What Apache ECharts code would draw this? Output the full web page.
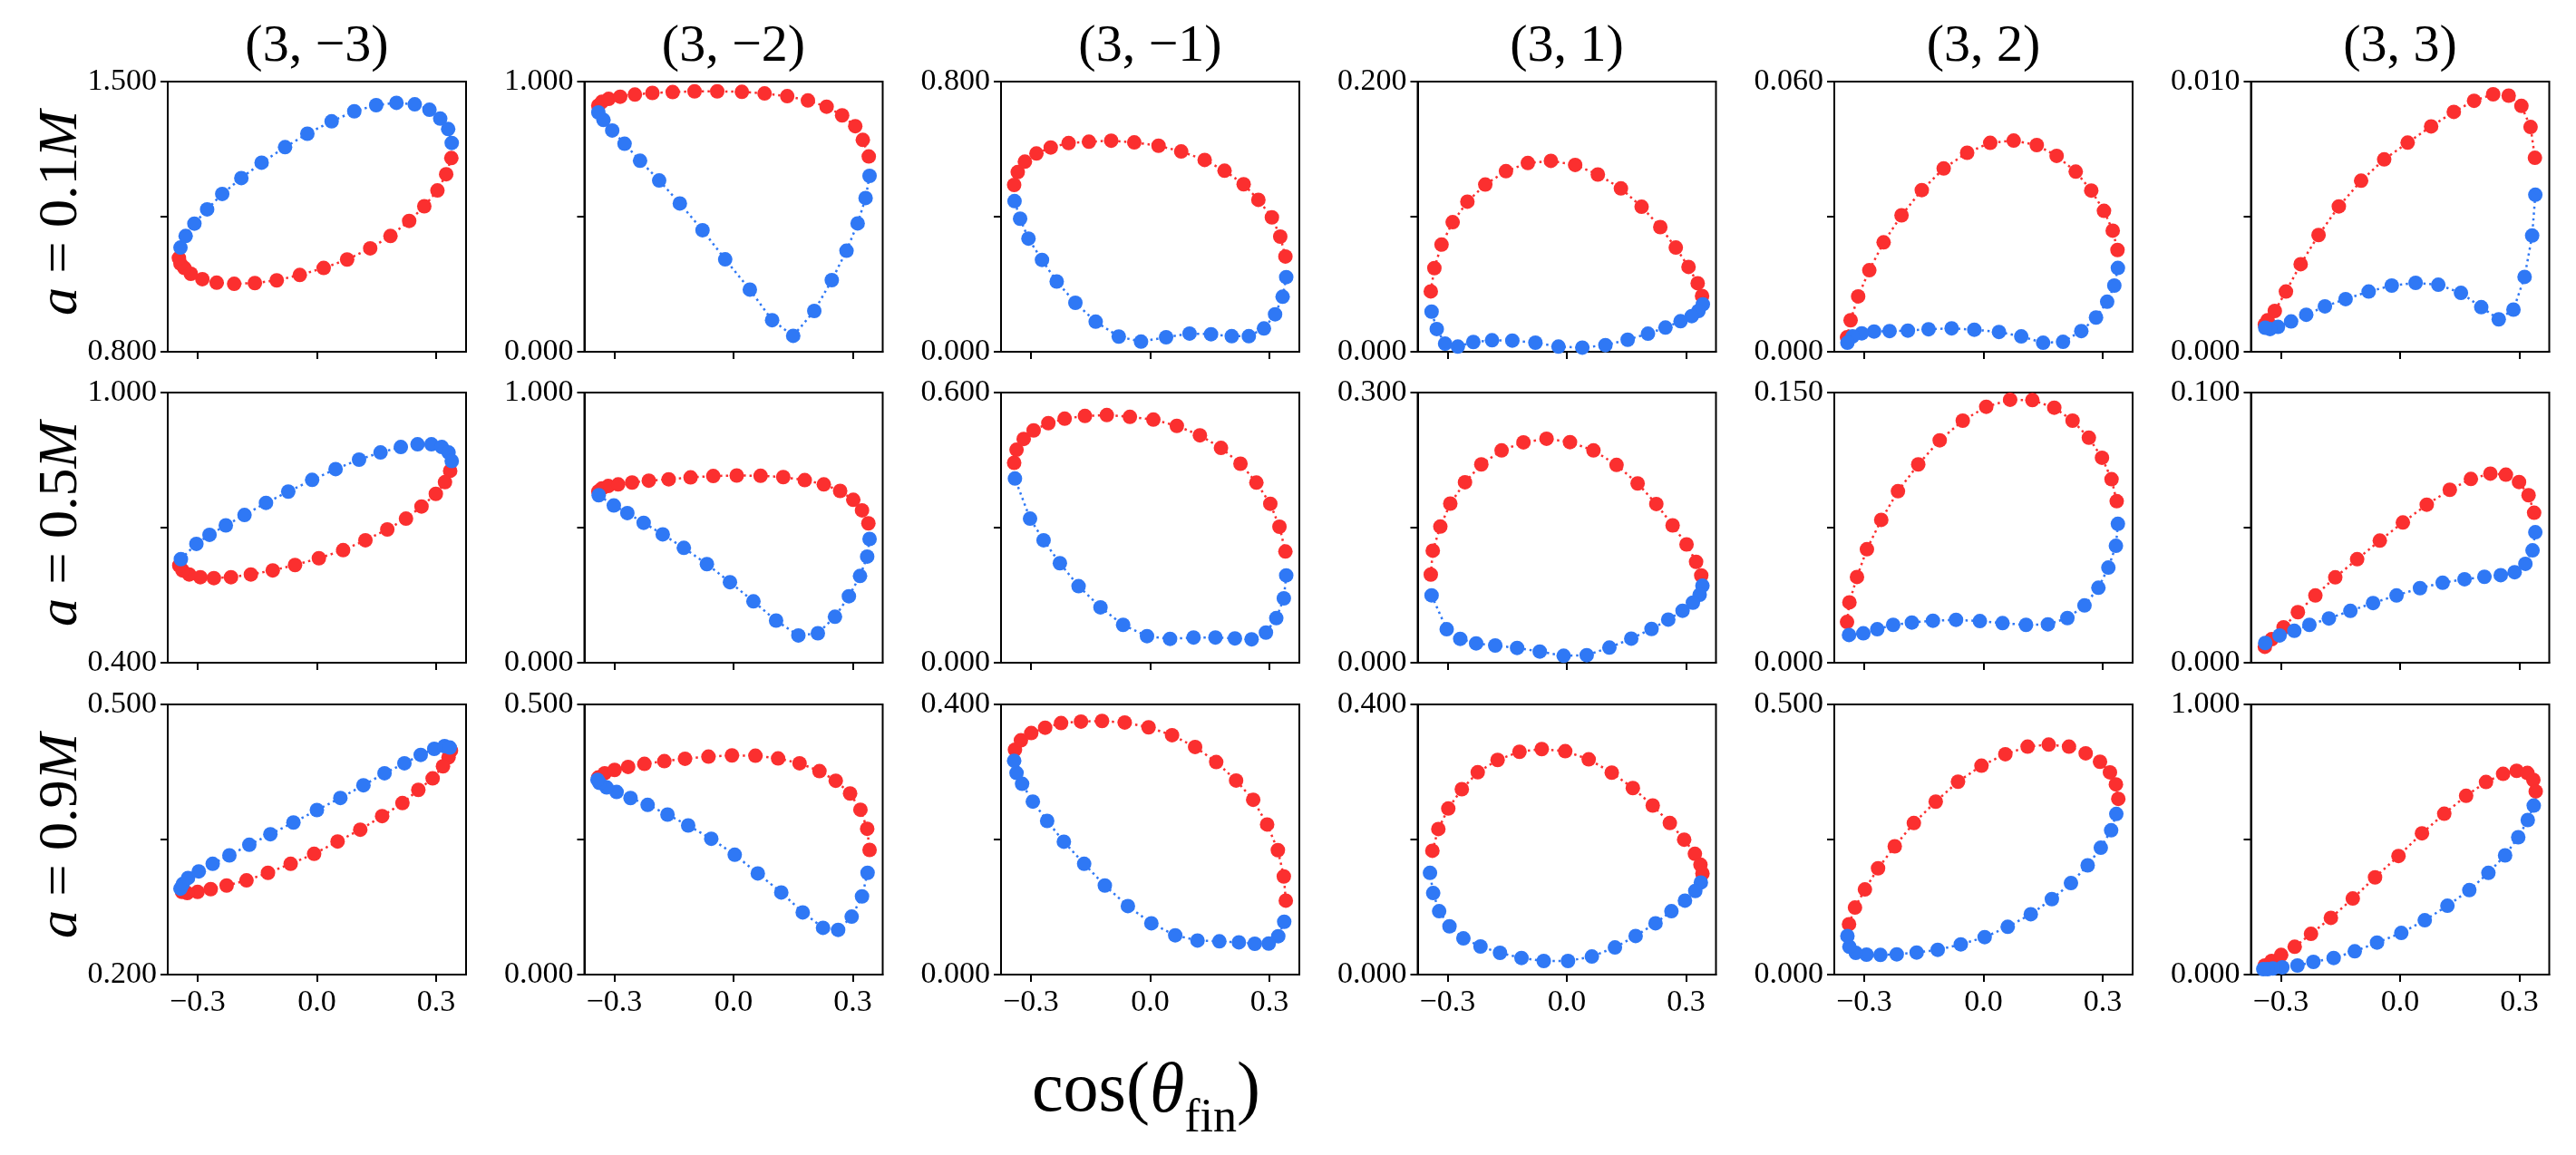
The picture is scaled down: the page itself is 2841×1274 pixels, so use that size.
<!DOCTYPE html>
<html>
<head>
<meta charset="utf-8">
<title>cos(theta_fin) panels</title>
<script src="https://cdn.jsdelivr.net/npm/echarts@6.0.0/dist/echarts.min.js"></script>
<style>
    html, body { margin: 0; padding: 0; background: #fff; }
    #main { width: 2841px; height: 1274px; }
</style>
</head>
<body>
<div id="main"></div>
<script>
// column titles (l, m) and row labels (spin a)
var modes = ['(3, \u22123)', '(3, \u22122)', '(3, \u22121)', '(3, 1)', '(3, 2)', '(3, 3)'];
var spins = ['0.1', '0.5', '0.9'];
var xTicks = [-0.3, 0, 0.3];

// y limits per row
var yMinA01 = [0.8, 0, 0, 0, 0, 0];
var yMaxA01 = [1.5, 1.0, 0.8, 0.2, 0.06, 0.01];
var yMinA05 = [0.4, 0, 0, 0, 0, 0];
var yMaxA05 = [1.0, 1.0, 0.6, 0.3, 0.15, 0.1];
var yMinA09 = [0.2, 0, 0, 0, 0, 0];
var yMaxA09 = [0.5, 0.5, 0.4, 0.4, 0.5, 1.0];

// a = 0.1M
var a01_m3_red = [[0.338,1.302],[0.325,1.260],[0.303,1.218],[0.270,1.177],[0.232,1.139],[0.185,1.100],[0.134,1.068],[0.076,1.039],[0.017,1.017],[-0.043,0.999],[-0.101,0.985],[-0.156,0.978],[-0.208,0.976],[-0.252,0.979],[-0.288,0.988],[-0.317,1.002],[-0.333,1.017],[-0.343,1.028],[-0.347,1.043]];
var a01_m3_blue = [[-0.343,1.070],[-0.330,1.100],[-0.308,1.132],[-0.276,1.169],[-0.238,1.209],[-0.190,1.250],[-0.139,1.290],[-0.080,1.330],[-0.024,1.365],[0.037,1.397],[0.094,1.423],[0.149,1.439],[0.200,1.445],[0.246,1.441],[0.283,1.427],[0.310,1.404],[0.330,1.377],[0.339,1.341]];
var a01_m2_red = [[-0.340,0.911],[-0.331,0.925],[-0.314,0.936],[-0.285,0.944],[-0.248,0.952],[-0.204,0.958],[-0.153,0.961],[-0.098,0.964],[-0.041,0.964],[0.021,0.962],[0.078,0.956],[0.135,0.946],[0.187,0.930],[0.234,0.907],[0.273,0.875],[0.306,0.835],[0.325,0.784],[0.340,0.723]];
var a01_m2_blue = [[0.342,0.651],[0.332,0.569],[0.312,0.475],[0.284,0.374],[0.247,0.265],[0.203,0.151],[0.150,0.059],[0.097,0.117],[0.041,0.230],[-0.021,0.342],[-0.078,0.450],[-0.135,0.549],[-0.187,0.634],[-0.235,0.707],[-0.274,0.770],[-0.305,0.819],[-0.327,0.858],[-0.340,0.886]];
var a01_m1_red = [[-0.342,0.494],[-0.333,0.532],[-0.315,0.563],[-0.286,0.587],[-0.250,0.605],[-0.205,0.618],[-0.154,0.622],[-0.098,0.625],[-0.040,0.620],[0.021,0.610],[0.078,0.593],[0.137,0.568],[0.187,0.536],[0.235,0.496],[0.272,0.450],[0.306,0.398],[0.327,0.341],[0.340,0.282]];
var a01_m1_blue = [[0.342,0.221],[0.333,0.163],[0.314,0.111],[0.286,0.069],[0.248,0.046],[0.205,0.046],[0.153,0.052],[0.099,0.054],[0.040,0.043],[-0.023,0.030],[-0.079,0.045],[-0.137,0.089],[-0.188,0.145],[-0.235,0.208],[-0.272,0.272],[-0.306,0.335],[-0.327,0.394],[-0.341,0.446]];
var a01_p1_red = [[-0.342,0.0447],[-0.333,0.0619],[-0.315,0.0793],[-0.287,0.0959],[-0.250,0.1111],[-0.205,0.1238],[-0.153,0.1337],[-0.098,0.1397],[-0.040,0.1413],[0.021,0.1383],[0.078,0.1312],[0.136,0.1209],[0.188,0.1073],[0.235,0.0923],[0.274,0.0771],[0.306,0.0628],[0.329,0.0507],[0.340,0.0413]];
var a01_p1_blue = [[0.342,0.0351],[0.331,0.0302],[0.314,0.0264],[0.286,0.0226],[0.248,0.0179],[0.204,0.0134],[0.153,0.0089],[0.097,0.0049],[0.039,0.0031],[-0.021,0.0038],[-0.079,0.0067],[-0.137,0.0083],[-0.188,0.0085],[-0.235,0.0072],[-0.274,0.0038],[-0.306,0.0060],[-0.327,0.0168],[-0.340,0.0297]];
var a01_p2_red = [[-0.343,0.0032],[-0.334,0.0070],[-0.315,0.0123],[-0.287,0.0181],[-0.251,0.0243],[-0.206,0.0303],[-0.155,0.0359],[-0.100,0.0407],[-0.041,0.0442],[0.017,0.0464],[0.076,0.0469],[0.134,0.0459],[0.184,0.0435],[0.232,0.0400],[0.271,0.0358],[0.303,0.0313],[0.325,0.0269],[0.337,0.0226]];
var a01_p2_blue = [[0.338,0.0186],[0.329,0.0147],[0.311,0.0111],[0.283,0.0076],[0.246,0.0046],[0.200,0.0022],[0.150,0.0020],[0.095,0.0034],[0.039,0.0044],[-0.023,0.0049],[-0.080,0.0052],[-0.138,0.0050],[-0.190,0.0047],[-0.236,0.0046],[-0.275,0.0045],[-0.306,0.0041],[-0.329,0.0034],[-0.342,0.0020]];
var a01_p3_red = [[-0.340,0.00101],[-0.333,0.00117],[-0.315,0.00151],[-0.287,0.00223],[-0.250,0.00324],[-0.205,0.00432],[-0.154,0.00538],[-0.098,0.00633],[-0.040,0.00712],[0.019,0.00774],[0.078,0.00834],[0.135,0.00888],[0.186,0.00929],[0.234,0.00953],[0.273,0.00948],[0.305,0.00910],[0.328,0.00832],[0.339,0.00718]];
var a01_p3_blue = [[0.340,0.00581],[0.332,0.00430],[0.313,0.00277],[0.285,0.00156],[0.248,0.00120],[0.204,0.00165],[0.153,0.00218],[0.096,0.00248],[0.039,0.00255],[-0.021,0.00245],[-0.079,0.00223],[-0.137,0.00195],[-0.189,0.00168],[-0.236,0.00137],[-0.274,0.00112],[-0.307,0.00092],[-0.327,0.00084],[-0.339,0.00089]];

// a = 0.5M
var a05_m3_red = [[0.335,0.826],[0.322,0.801],[0.299,0.775],[0.263,0.747],[0.224,0.720],[0.177,0.696],[0.122,0.672],[0.066,0.650],[0.005,0.632],[-0.055,0.617],[-0.111,0.605],[-0.166,0.596],[-0.216,0.590],[-0.259,0.588],[-0.293,0.590],[-0.321,0.596],[-0.338,0.605],[-0.346,0.616]];
var a05_m3_blue = [[-0.342,0.630],[-0.303,0.664],[-0.270,0.684],[-0.229,0.705],[-0.182,0.728],[-0.128,0.755],[-0.072,0.780],[-0.012,0.806],[0.047,0.830],[0.106,0.851],[0.160,0.867],[0.211,0.879],[0.253,0.885],[0.288,0.885],[0.314,0.879],[0.331,0.867],[0.339,0.848]];
var a05_m2_red = [[-0.340,0.634],[-0.331,0.645],[-0.315,0.654],[-0.290,0.660],[-0.255,0.667],[-0.213,0.674],[-0.163,0.679],[-0.108,0.686],[-0.051,0.691],[0.008,0.693],[0.068,0.692],[0.125,0.687],[0.179,0.676],[0.227,0.660],[0.268,0.636],[0.301,0.603],[0.323,0.564],[0.339,0.516]];
var a05_m2_blue = [[0.342,0.458],[0.336,0.393],[0.318,0.321],[0.290,0.246],[0.255,0.170],[0.212,0.109],[0.163,0.101],[0.107,0.156],[0.050,0.227],[-0.009,0.298],[-0.067,0.365],[-0.125,0.425],[-0.178,0.475],[-0.226,0.518],[-0.267,0.554],[-0.301,0.582],[-0.339,0.620]];
var a05_m1_red = [[-0.342,0.444],[-0.336,0.473],[-0.318,0.497],[-0.293,0.516],[-0.256,0.532],[-0.215,0.542],[-0.164,0.548],[-0.109,0.550],[-0.051,0.546],[0.008,0.540],[0.067,0.526],[0.125,0.505],[0.178,0.477],[0.227,0.442],[0.267,0.400],[0.302,0.353],[0.325,0.302],[0.340,0.247]];
var a05_m1_blue = [[0.342,0.194],[0.336,0.143],[0.317,0.099],[0.291,0.067],[0.255,0.052],[0.213,0.054],[0.164,0.056],[0.109,0.056],[0.050,0.053],[-0.008,0.059],[-0.068,0.084],[-0.125,0.123],[-0.180,0.170],[-0.227,0.221],[-0.268,0.272],[-0.302,0.320],[-0.340,0.409]];
var a05_p1_red = [[-0.342,0.0979],[-0.337,0.1244],[-0.318,0.1512],[-0.293,0.1767],[-0.256,0.2004],[-0.215,0.2202],[-0.164,0.2357],[-0.109,0.2447],[-0.051,0.2487],[0.008,0.2450],[0.067,0.2357],[0.125,0.2196],[0.178,0.1991],[0.225,0.1763],[0.266,0.1525],[0.301,0.1314],[0.325,0.1120],[0.338,0.0969]];
var a05_p1_blue = [[0.341,0.0855],[0.334,0.0754],[0.317,0.0667],[0.291,0.0577],[0.255,0.0479],[0.213,0.0375],[0.162,0.0268],[0.107,0.0168],[0.050,0.0084],[-0.008,0.0077],[-0.068,0.0124],[-0.125,0.0164],[-0.180,0.0191],[-0.228,0.0215],[-0.268,0.0265],[-0.302,0.0372],[-0.340,0.0748]];
var a05_p2_red = [[-0.343,0.0226],[-0.337,0.0335],[-0.318,0.0476],[-0.293,0.0630],[-0.257,0.0793],[-0.215,0.0952],[-0.164,0.1101],[-0.110,0.1235],[-0.052,0.1344],[0.007,0.1421],[0.067,0.1460],[0.123,0.1458],[0.178,0.1416],[0.224,0.1344],[0.265,0.1249],[0.298,0.1138],[0.322,0.1019],[0.335,0.0897]];
var a05_p2_blue = [[0.338,0.0771],[0.333,0.0649],[0.314,0.0528],[0.289,0.0416],[0.254,0.0318],[0.211,0.0248],[0.162,0.0213],[0.107,0.0210],[0.048,0.0220],[-0.009,0.0231],[-0.069,0.0238],[-0.127,0.0233],[-0.180,0.0223],[-0.227,0.0210],[-0.267,0.0186],[-0.302,0.0163],[-0.338,0.0154]];
var a05_p3_red = [[-0.340,0.0059],[-0.323,0.0087],[-0.293,0.0131],[-0.257,0.0187],[-0.213,0.0249],[-0.163,0.0316],[-0.108,0.0383],[-0.051,0.0452],[0.007,0.0519],[0.067,0.0585],[0.125,0.0640],[0.178,0.0680],[0.227,0.0700],[0.266,0.0696],[0.299,0.0669],[0.323,0.0620],[0.337,0.0555]];
var a05_p3_blue = [[0.340,0.0483],[0.333,0.0416],[0.315,0.0366],[0.288,0.0335],[0.253,0.0324],[0.212,0.0318],[0.162,0.0309],[0.107,0.0296],[0.050,0.0276],[-0.009,0.0249],[-0.068,0.0221],[-0.125,0.0192],[-0.179,0.0164],[-0.228,0.0140],[-0.266,0.0118],[-0.303,0.0101],[-0.339,0.0073]];

// a = 0.9M
var a09_m3_red = [[0.337,0.4487],[0.331,0.4413],[0.317,0.4313],[0.291,0.4179],[0.255,0.4051],[0.215,0.3904],[0.164,0.3760],[0.109,0.3609],[0.052,0.3478],[-0.007,0.3341],[-0.066,0.3230],[-0.123,0.3130],[-0.177,0.3046],[-0.227,0.2989],[-0.267,0.2949],[-0.300,0.2918],[-0.326,0.2905],[-0.339,0.2918]];
var a09_m3_blue = [[-0.343,0.2955],[-0.337,0.3006],[-0.324,0.3073],[-0.297,0.3146],[-0.262,0.3230],[-0.220,0.3324],[-0.170,0.3441],[-0.117,0.3559],[-0.059,0.3689],[0.000,0.3827],[0.059,0.3961],[0.117,0.4102],[0.170,0.4236],[0.220,0.4346],[0.261,0.4440],[0.295,0.4507],[0.321,0.4537],[0.334,0.4521]];
var a09_m2_red = [[-0.340,0.3648],[-0.324,0.3726],[-0.299,0.3788],[-0.265,0.3844],[-0.224,0.3900],[-0.174,0.3950],[-0.122,0.3995],[-0.063,0.4034],[-0.004,0.4056],[0.055,0.4051],[0.112,0.4001],[0.166,0.3911],[0.216,0.3766],[0.257,0.3587],[0.293,0.3352],[0.319,0.3051],[0.336,0.2699],[0.342,0.2307]];
var a09_m2_blue = [[0.337,0.1883],[0.323,0.1447],[0.297,0.1073],[0.263,0.0827],[0.225,0.0866],[0.174,0.1151],[0.120,0.1520],[0.061,0.1872],[0.003,0.2218],[-0.056,0.2514],[-0.114,0.2760],[-0.166,0.2961],[-0.216,0.3140],[-0.259,0.3268],[-0.294,0.3380],[-0.319,0.3464],[-0.337,0.3548],[-0.342,0.3604]];
var a09_m1_red = [[-0.340,0.3330],[-0.325,0.3469],[-0.299,0.3576],[-0.264,0.3656],[-0.224,0.3724],[-0.174,0.3746],[-0.121,0.3755],[-0.064,0.3732],[-0.004,0.3661],[0.055,0.3545],[0.113,0.3370],[0.166,0.3147],[0.216,0.2874],[0.259,0.2588],[0.294,0.2222],[0.321,0.1842],[0.336,0.1453],[0.341,0.1095]];
var a09_m1_blue = [[0.337,0.0782],[0.322,0.0568],[0.298,0.0460],[0.263,0.0456],[0.223,0.0478],[0.174,0.0492],[0.119,0.0505],[0.063,0.0581],[0.003,0.0760],[-0.056,0.1015],[-0.114,0.1319],[-0.166,0.1640],[-0.217,0.1967],[-0.259,0.2275],[-0.295,0.2561],[-0.322,0.2825],[-0.336,0.2986],[-0.342,0.3165]];
var a09_p1_red = [[-0.338,0.1833],[-0.323,0.2155],[-0.298,0.2459],[-0.264,0.2745],[-0.224,0.2995],[-0.174,0.3178],[-0.119,0.3299],[-0.063,0.3339],[-0.004,0.3308],[0.055,0.3187],[0.113,0.2990],[0.166,0.2762],[0.216,0.2503],[0.259,0.2244],[0.295,0.1998],[0.322,0.1788],[0.336,0.1627],[0.341,0.1497]];
var a09_p1_blue = [[0.337,0.1363],[0.323,0.1238],[0.297,0.1095],[0.263,0.0939],[0.223,0.0760],[0.173,0.0572],[0.121,0.0402],[0.063,0.0268],[0.003,0.0201],[-0.058,0.0201],[-0.114,0.0246],[-0.168,0.0322],[-0.217,0.0416],[-0.260,0.0536],[-0.295,0.0715],[-0.321,0.0939],[-0.336,0.1207],[-0.344,0.1506]];
var a09_p2_red = [[-0.338,0.0933],[-0.323,0.1240],[-0.298,0.1576],[-0.265,0.1967],[-0.223,0.2374],[-0.175,0.2805],[-0.120,0.3201],[-0.064,0.3570],[-0.005,0.3866],[0.055,0.4079],[0.111,0.4218],[0.164,0.4257],[0.215,0.4218],[0.257,0.4095],[0.293,0.3939],[0.318,0.3743],[0.333,0.3520],[0.339,0.3252]];
var a09_p2_blue = [[0.334,0.2972],[0.321,0.2671],[0.295,0.2347],[0.262,0.2022],[0.220,0.1693],[0.172,0.1397],[0.119,0.1117],[0.061,0.0883],[0.003,0.0693],[-0.057,0.0559],[-0.115,0.0458],[-0.168,0.0408],[-0.218,0.0374],[-0.259,0.0363],[-0.294,0.0369],[-0.321,0.0402],[-0.337,0.0514],[-0.342,0.0715]];
var a09_p3_red = [[-0.340,0.0335],[-0.323,0.0503],[-0.299,0.0726],[-0.265,0.1028],[-0.224,0.1508],[-0.174,0.2101],[-0.119,0.2816],[-0.063,0.3598],[-0.004,0.4391],[0.055,0.5229],[0.111,0.5955],[0.166,0.6615],[0.216,0.7128],[0.259,0.7430],[0.293,0.7542],[0.320,0.7464],[0.335,0.7207],[0.341,0.6782]];
var a09_p3_blue = [[0.336,0.6257],[0.321,0.5721],[0.297,0.5084],[0.264,0.4413],[0.222,0.3765],[0.174,0.3128],[0.119,0.2547],[0.062,0.2011],[0.003,0.1542],[-0.058,0.1184],[-0.114,0.0860],[-0.167,0.0615],[-0.218,0.0469],[-0.258,0.0335],[-0.296,0.0268],[-0.320,0.0223],[-0.333,0.0201],[-0.344,0.0201]];

var ROWS = [
    { yMin: yMinA01, yMax: yMaxA01,
      red: [a01_m3_red, a01_m2_red, a01_m1_red, a01_p1_red, a01_p2_red, a01_p3_red],
      blue: [a01_m3_blue, a01_m2_blue, a01_m1_blue, a01_p1_blue, a01_p2_blue, a01_p3_blue] },
    { yMin: yMinA05, yMax: yMaxA05,
      red: [a05_m3_red, a05_m2_red, a05_m1_red, a05_p1_red, a05_p2_red, a05_p3_red],
      blue: [a05_m3_blue, a05_m2_blue, a05_m1_blue, a05_p1_blue, a05_p2_blue, a05_p3_blue] },
    { yMin: yMinA09, yMax: yMaxA09,
      red: [a09_m3_red, a09_m2_red, a09_m1_red, a09_p1_red, a09_p2_red, a09_p3_red],
      blue: [a09_m3_blue, a09_m2_blue, a09_m1_blue, a09_p1_blue, a09_p2_blue, a09_p3_blue] }
];

var FONT = '"Liberation Serif", "DejaVu Serif", serif';
var RED = '#fb2f2f', BLUE = '#2f78f5';

var LAYOUT = {
    left: 185, step: 459.5, width: 329, height: 298,
    tops: [90, 433, 777]
};

function fmtX(v) {
    return v < 0 ? '\u2212' + Math.abs(v).toFixed(1) : v.toFixed(1);
}

function lineSeries(idx, data, color) {
    return {
        type: 'line',
        xAxisIndex: idx,
        yAxisIndex: idx,
        data: data,
        symbol: 'circle',
        symbolSize: 16,
        showAllSymbol: true,
        silent: true,
        animation: false,
        itemStyle: { color: color },
        lineStyle: { color: color, width: 2.5, type: [2.5, 4] }
    };
}

var grids = [], xAxes = [], yAxes = [], series = [], graphics = [];

ROWS.forEach(function (row, r) {
    modes.forEach(function (m, c) {
        var idx = grids.length;
        var lo = row.yMin[c], hi = row.yMax[c];
        grids.push({
            left: LAYOUT.left + c * LAYOUT.step,
            top: LAYOUT.tops[r],
            width: LAYOUT.width,
            height: LAYOUT.height,
            show: true,
            borderColor: '#000',
            borderWidth: 2
        });
        xAxes.push({
            type: 'value', gridIndex: idx, min: -0.375, max: 0.375,
            splitLine: { show: false },
            axisLine: { show: true, onZero: false, lineStyle: { color: '#000', width: 2 } },
            axisTick: { show: true, length: 8, customValues: xTicks, lineStyle: { color: '#000', width: 2 } },
            axisLabel: {
                show: r === 2, customValues: xTicks, formatter: fmtX,
                fontFamily: FONT, fontSize: 34, color: '#000', margin: 14
            }
        });
        yAxes.push({
            type: 'value', gridIndex: idx, min: lo, max: hi,
            splitLine: { show: false },
            axisLine: { show: true, onZero: false, lineStyle: { color: '#000', width: 2 } },
            axisTick: { show: true, length: 8, customValues: [lo, (lo + hi) / 2, hi], lineStyle: { color: '#000', width: 2 } },
            axisLabel: {
                customValues: [lo, hi],
                formatter: function (v) { return v.toFixed(3); },
                fontFamily: FONT, fontSize: 34, color: '#000', margin: 12
            }
        });
        series.push(lineSeries(idx, row.red[c], RED));
        series.push(lineSeries(idx, row.blue[c], BLUE));
    });

    graphics.push({
        type: 'text',
        x: 68,
        y: LAYOUT.tops[r] + LAYOUT.height / 2 - 4,
        rotation: Math.PI / 2,
        style: {
            text: '{i|a} = ' + spins[r] + '{i|M}',
            fontFamily: FONT, fontSize: 62, fill: '#000',
            align: 'center', verticalAlign: 'middle',
            rich: { i: { fontStyle: 'italic', fontFamily: FONT, fontSize: 62 } }
        }
    });
});

modes.forEach(function (m, c) {
    graphics.push({
        type: 'text',
        x: LAYOUT.left + c * LAYOUT.step + LAYOUT.width / 2,
        y: 52,
        style: {
            text: m, fontFamily: FONT, fontSize: 58, fill: '#000',
            align: 'center', verticalAlign: 'middle'
        }
    });
});

graphics.push({
    type: 'text',
    x: 1264,
    y: 1205,
    style: {
        text: '{n|cos(}{t|\u03b8}{s|fin}{n|)}',
        fontFamily: FONT, fontSize: 78, fill: '#000',
        align: 'center', verticalAlign: 'middle',
        rich: {
            n: { fontFamily: FONT, fontSize: 78, lineHeight: 110, verticalAlign: 'middle' },
            t: { fontFamily: FONT, fontSize: 78, fontStyle: 'italic', lineHeight: 110, verticalAlign: 'middle' },
            s: { fontFamily: FONT, fontSize: 52, lineHeight: 110, verticalAlign: 'bottom' }
        }
    }
});

var chart = echarts.init(document.getElementById('main'), null, { renderer: 'canvas' });
chart.setOption({
    animation: false,
    backgroundColor: '#fff',
    grid: grids,
    xAxis: xAxes,
    yAxis: yAxes,
    series: series,
    graphic: graphics
});
</script>
</body>
</html>
